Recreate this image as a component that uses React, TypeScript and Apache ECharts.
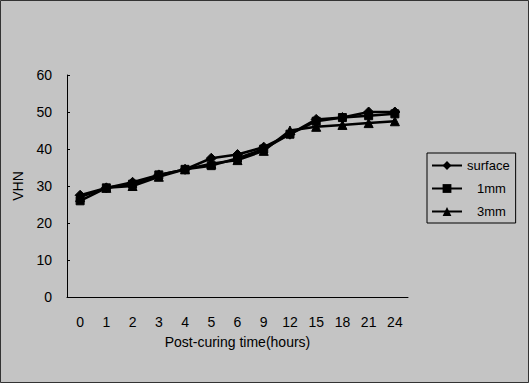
import React, { useEffect, useRef } from "react";
import * as echarts from "echarts";

const categories = ["0", "1", "2", "3", "4", "5", "6", "9", "12", "15", "18", "21", "24"];
const surface = [27.5, 29.5, 31, 33, 34.5, 37.5, 38.5, 40.5, 44, 48, 48.5, 50, 50];
const mm1 = [26, 29.5, 30.5, 33, 34.5, 35.5, 37.5, 40, 44, 47.5, 48.5, 49, 49.5];
const mm3 = [27, 29.5, 30, 32.5, 34.5, 36, 37, 39.5, 45, 46, 46.5, 47, 47.5];
const seriesNames = ["surface", "1mm", "3mm"];

export default function App() {
  const ref = useRef<HTMLDivElement>(null);
  useEffect(() => {
    document.body.style.margin = "0";
    const chart = echarts.init(ref.current!, null, { renderer: "svg" });
    const font = "Liberation Sans, Arial, sans-serif";
    const mk = (name: string, data: number[], symbol: string, size: number) => ({
      name,
      type: "line",
      data,
      symbol,
      symbolSize: size,
      lineStyle: { color: "#000", width: 2.5 },
      itemStyle: { color: "#000", borderColor: "#000" },
    });
    chart.setOption({
      animation: false,
      backgroundColor: "#c4c4c4",
      textStyle: { fontFamily: font },
      grid: { left: 67, right: 121, top: 75, bottom: 86 },
      xAxis: {
        type: "category",
        data: categories,
        boundaryGap: true,
        axisLine: { lineStyle: { color: "#000", width: 1 } },
        axisTick: { inside: true, length: 3, lineStyle: { color: "#000" } },
        axisLabel: { color: "#000", fontSize: 14, margin: 18, fontFamily: font },
        name: "Post-curing time(hours)",
        nameLocation: "middle",
        nameGap: 38,
        nameTextStyle: { color: "#000", fontSize: 14, fontFamily: font },
      },
      yAxis: {
        type: "value",
        min: 0,
        max: 60,
        interval: 10,
        splitLine: { show: false },
        axisLine: { show: true, lineStyle: { color: "#000", width: 1 } },
        axisTick: { show: true, inside: true, length: 3, lineStyle: { color: "#000" } },
        axisLabel: { color: "#000", fontSize: 14, margin: 15, fontFamily: font },
        name: "VHN",
        nameLocation: "middle",
        nameRotate: 90,
        nameGap: 42,
        nameTextStyle: { color: "#000", fontSize: 14, fontFamily: font },
      },
      legend: {
        data: seriesNames,
        orient: "vertical",
        left: 427,
        top: 153,
        width: 91,
        padding: [6, 6, 5, 4],
        itemGap: 10,
        itemWidth: 30,
        itemHeight: 11,
        borderColor: "#000",
        borderWidth: 1,
        backgroundColor: "transparent",
        formatter: (name: string) => (name === "surface" ? `{a|${name}}` : `{b|${name}}`),
        textStyle: {
          color: "#000",
          fontSize: 13,
          fontFamily: font,
          rich: {
            a: { fontSize: 13, fontFamily: font, color: "#000" },
            b: { fontSize: 13, fontFamily: font, color: "#000", padding: [0, 0, 0, 10] },
          },
        },
      },
      graphic: [
        {
          type: "rect",
          shape: { x: 0.5, y: 0.5, width: 528, height: 382 },
          style: { fill: "none", stroke: "#333", lineWidth: 1 },
          silent: true,
        },
      ],
      series: [
        mk(seriesNames[0], surface, "diamond", 10),
        mk(seriesNames[1], mm1, "rect", 8),
        mk(seriesNames[2], mm3, "triangle", 9),
      ],
    });
    return () => chart.dispose();
  }, []);
  return <div ref={ref} style={{ width: 529, height: 383, position: "absolute", left: 0, top: 0 }} />;
}
